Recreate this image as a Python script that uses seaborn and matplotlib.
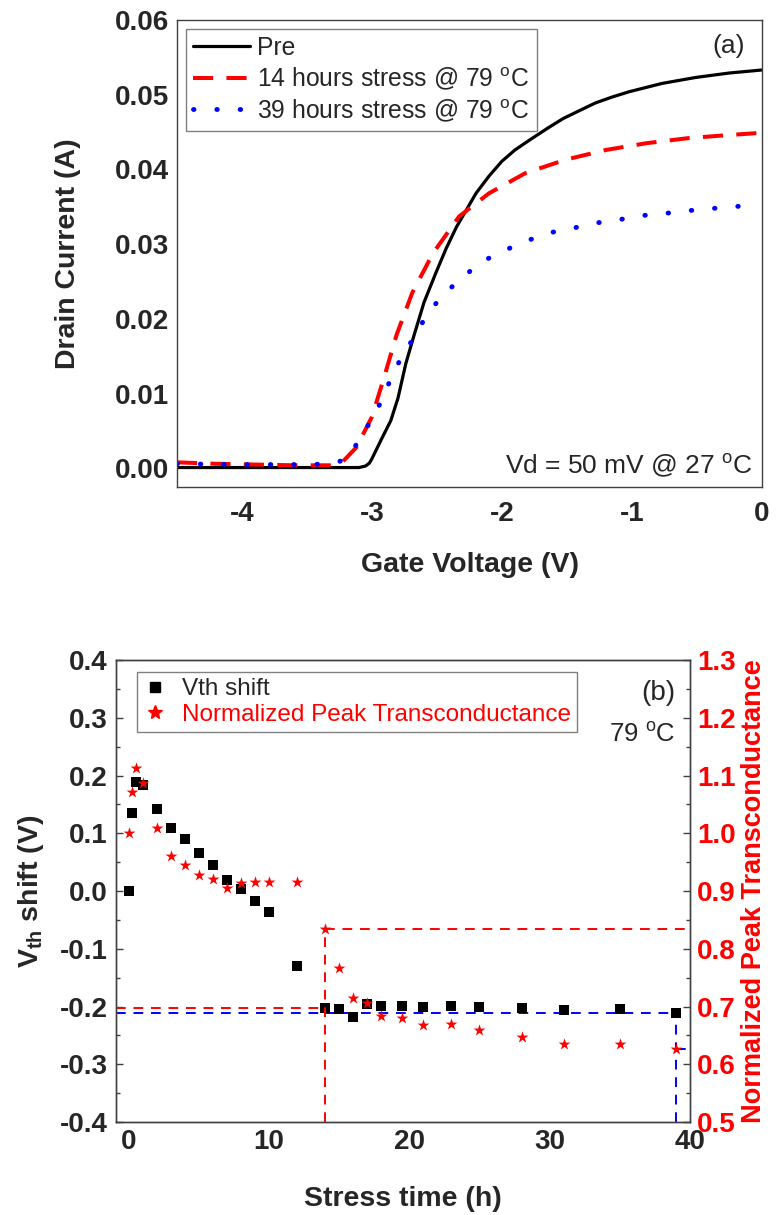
import matplotlib
matplotlib.use("Agg")
import matplotlib.pyplot as plt
from matplotlib.lines import Line2D
from matplotlib.ticker import MultipleLocator, FormatStrFormatter
import seaborn as sns
import numpy as np

# ---- panel (a): transfer curves ----
vg_pre = [-4.5, -4.0, -3.5, -3.2, -3.1, -3.05, -3.02, -3.0, -2.93, -2.855, -2.8, -2.74,
          -2.68, -2.60, -2.51, -2.43, -2.35, -2.2, -2.1, -2.0, -1.9, -1.79, -1.65,
          -1.53, -1.4, -1.28, -1.15, -1.02, -0.77, -0.51, -0.25, 0.0]
id_pre = [0.0001, 0.0001, 0.0001, 0.0001, 0.0001, 0.0003, 0.0007, 0.0013, 0.0038, 0.0064,
          0.0094, 0.0140, 0.0176, 0.0222, 0.0261, 0.0294, 0.0323, 0.0368, 0.0391, 0.0411,
          0.0426, 0.0439, 0.0455, 0.0468, 0.0479, 0.0489, 0.0497, 0.0504, 0.0515, 0.0523,
          0.0529, 0.0533]

vg_14h = [-4.5, -4.2, -3.9, -3.6, -3.3, -3.23, -3.12, -3.0, -2.91, -2.81, -2.69, -2.53,
          -2.33, -2.1, -1.82, -1.51, -1.2, -0.89, -0.56, -0.25, 0.0]
id_14h = [0.0008, 0.0006, 0.0005, 0.0004, 0.0004, 0.0008, 0.0028, 0.0069, 0.0120, 0.0179,
          0.0235, 0.0288, 0.0337, 0.0368, 0.0395, 0.0413, 0.0426, 0.0435, 0.0442, 0.0446,
          0.0449]

vg_39h = [-4.5, -4.0, -3.5, -3.3, -3.19, -3.05, -2.93, -2.855, -2.77, -2.67, -2.58, -2.455,
          -2.3, -2.16, -2.0, -1.83, -1.64, -1.46, -1.29, -1.12, -0.93, -0.75, -0.55,
          -0.36, -0.15]
id_39h = [0.0006, 0.0005, 0.0005, 0.0006, 0.0013, 0.0051, 0.0089, 0.0120, 0.0150, 0.0177,
          0.0205, 0.0232, 0.0256, 0.0276, 0.0290, 0.0303, 0.0315, 0.0321, 0.0328, 0.0332,
          0.0338, 0.0341, 0.0345, 0.0348, 0.0351]

# ---- panel (b): stress time evolution ----
stress_h = [0, 0.25, 0.5, 1, 2, 3, 4, 5, 6, 7, 8, 9, 10, 12, 14, 15, 16, 17, 18, 19.5,
            21, 23, 25, 28, 31, 35, 39]
vth_shift = [0.0, 0.135, 0.189, 0.183, 0.143, 0.110, 0.090, 0.066, 0.045, 0.020, 0.003,
             -0.017, -0.036, -0.129, -0.202, -0.205, -0.218, -0.196, -0.199, -0.199,
             -0.200, -0.199, -0.201, -0.203, -0.206, -0.205, -0.211]
gm_norm = [1.0, 1.071, 1.114, 1.087, 1.010, 0.960, 0.946, 0.928, 0.921, 0.906, 0.914,
           0.916, 0.916, 0.916, 0.835, 0.767, 0.715, 0.706, 0.684, 0.680, 0.668, 0.670,
           0.660, 0.647, 0.636, 0.636, 0.627]

sns.set_style("white")
plt.rcParams['font.family'] = ['Liberation Sans', 'DejaVu Sans']
plt.rcParams['axes.unicode_minus'] = False
plt.rcParams['mathtext.fontset'] = 'custom'
plt.rcParams['mathtext.rm'] = 'Liberation Sans'
plt.rcParams['mathtext.bf'] = 'Liberation Sans:bold'
plt.rcParams['mathtext.it'] = 'Liberation Sans:italic'

TICK_FS = 20
LABEL_FS = 20.5
SPINE_C = '#404040'

fig = plt.figure(figsize=(7.77, 12.15), dpi=100)
ax_a = fig.add_axes([0.2278, 0.5992, 0.7529, 0.3844])
ax_b = fig.add_axes([0.1493, 0.0765, 0.7387, 0.3802])


def style_axes(ax, xpad):
    for sp in ax.spines.values():
        sp.set_color(SPINE_C)
        sp.set_linewidth(1.0)
    ax.tick_params(which='both', direction='in', top=False, right=False,
                   color=SPINE_C, width=1.0)
    ax.tick_params(which='major', length=5)
    ax.tick_params(which='minor', length=3)
    ax.tick_params(axis='x', pad=xpad)
    ax.tick_params(axis='y', pad=6)
    for lab in ax.get_xticklabels() + ax.get_yticklabels():
        lab.set_fontsize(TICK_FS)
        lab.set_fontweight('bold')


# panel (a)
sns.lineplot(x=vg_pre, y=id_pre, ax=ax_a, color='black', linewidth=2.3,
             label='Pre')
sns.lineplot(x=vg_14h, y=id_14h, ax=ax_a, color='red', linewidth=2.9,
             linestyle=(0, (5.0, 3.3)), label='14 hours stress @ 79 $^{\\rm o}$C')
sns.lineplot(x=vg_39h, y=id_39h, ax=ax_a, color='blue', linewidth=3.5,
             linestyle=(0, (0.1, 4.7)), dash_capstyle='round',
             label='39 hours stress @ 79 $^{\\rm o}$C')

ax_a.set_xlim(-4.5, 0)
ax_a.set_ylim(-0.0025, 0.06)
ax_a.xaxis.set_major_locator(MultipleLocator(1))
ax_a.xaxis.set_minor_locator(MultipleLocator(0.5))
ax_a.yaxis.set_major_locator(MultipleLocator(0.01))
ax_a.yaxis.set_minor_locator(MultipleLocator(0.005))
ax_a.xaxis.set_major_formatter(FormatStrFormatter('%d'))
ax_a.yaxis.set_major_formatter(FormatStrFormatter('%.2f'))
style_axes(ax_a, 10)
ax_a.set_xlabel('Gate Voltage (V)', fontsize=LABEL_FS, fontweight='bold', labelpad=18)
ax_a.set_ylabel('Drain Current (A)', fontsize=LABEL_FS, fontweight='bold', labelpad=24)

leg_a = ax_a.legend(loc='upper left', fontsize=17.8, frameon=True, fancybox=False,
                    edgecolor='#606060', handlelength=2.3, handletextpad=0.3,
                    labelspacing=0.2, borderpad=0.3, borderaxespad=0.35)
leg_a.get_frame().set_linewidth(1.0)

ax_a.text(0.971, 0.945, '(a)', transform=ax_a.transAxes, ha='right', va='center',
          fontsize=19)
ax_a.text(0.985, 0.045, 'Vd = 50 mV @ 27 $^{\\rm o}$C', transform=ax_a.transAxes,
          ha='right', va='center', fontsize=19)

# panel (b)
ax_b2 = ax_b.twinx()
sns.scatterplot(x=stress_h, y=vth_shift, ax=ax_b, marker='s', color='black', s=48,
                linewidth=0, zorder=5)
sns.scatterplot(x=stress_h, y=gm_norm, ax=ax_b2, marker='*', color='red', s=80,
                linewidth=0, zorder=5)

ax_b.set_xlim(-0.9, 40)
ax_b.set_ylim(-0.4, 0.4)
ax_b2.set_ylim(0.5, 1.3)

# guide lines at 14 h and 39 h
t = np.array(stress_h)
i14 = int(np.where(t == 14)[0][0])
i39 = int(np.where(t == 39)[0][0])
dash = (0, (5, 4))
ax_b.plot([-0.9, stress_h[i14]], [vth_shift[i14]] * 2, color='red', lw=1.4, ls=dash)
ax_b2.plot([stress_h[i14]] * 2, [0.5, gm_norm[i14]], color='red', lw=1.4, ls=dash)
ax_b2.plot([stress_h[i14], 40], [gm_norm[i14]] * 2, color='red', lw=1.4, ls=dash)
ax_b.plot([-0.9, stress_h[i39]], [vth_shift[i39]] * 2, color='blue', lw=1.4, ls=dash)
ax_b.plot([stress_h[i39]] * 2, [-0.4, vth_shift[i39]], color='blue', lw=1.4, ls=dash)
ax_b2.plot([stress_h[i39], 40], [gm_norm[i39]] * 2, color='blue', lw=1.4, ls=dash)

ax_b.xaxis.set_major_locator(MultipleLocator(10))
ax_b.xaxis.set_minor_locator(MultipleLocator(5))
ax_b.yaxis.set_major_locator(MultipleLocator(0.1))
ax_b.yaxis.set_minor_locator(MultipleLocator(0.05))
ax_b.yaxis.set_major_formatter(FormatStrFormatter('%.1f'))
ax_b2.yaxis.set_major_locator(MultipleLocator(0.1))
ax_b2.yaxis.set_minor_locator(MultipleLocator(0.05))
ax_b2.yaxis.set_major_formatter(FormatStrFormatter('%.1f'))
style_axes(ax_b, 5)
for sp in ax_b2.spines.values():
    sp.set_color(SPINE_C)
    sp.set_linewidth(1.0)
ax_b2.tick_params(which='both', direction='in', left=False, right=True,
                  color=SPINE_C, width=1.0, pad=5)
ax_b2.tick_params(which='major', length=5)
ax_b2.tick_params(which='minor', length=3)
for lab in ax_b2.get_yticklabels():
    lab.set_fontsize(TICK_FS)
    lab.set_fontweight('bold')
    lab.set_color('red')

ax_b.set_xlabel('Stress time (h)', fontsize=LABEL_FS, fontweight='bold', labelpad=22)
ax_b.set_ylabel(r'V$_{\mathbf{th}}$ shift (V)', fontsize=LABEL_FS, fontweight='bold',
                labelpad=10)
ax_b2.set_ylabel('Normalized Peak Transconductance', fontsize=19.5,
                 fontweight='bold', color='red', labelpad=4)

handles = [Line2D([], [], ls='none', marker='s', color='black', ms=7.5),
           Line2D([], [], ls='none', marker='*', color='red', ms=10.5)]
leg_b = ax_b2.legend(handles, ['Vth shift', 'Normalized Peak Transconductance'],
                     loc='upper left', bbox_to_anchor=(0.0366, 0.974),
                     fontsize=17.5, frameon=True, fancybox=False,
                     edgecolor='#606060', handlelength=1.0, handletextpad=0.6,
                     labelspacing=0.15, borderpad=0.25, borderaxespad=0.0)
leg_b.get_frame().set_linewidth(1.0)
leg_b.get_texts()[1].set_color('red')

ax_b.text(0.974, 0.929, '(b)', transform=ax_b.transAxes, ha='right', va='center',
          fontsize=20)
ax_b.text(0.974, 0.838, '79 $^{\\rm o}$C', transform=ax_b.transAxes, ha='right',
          va='center', fontsize=18.5)

fig.savefig('out.png', dpi=100)
